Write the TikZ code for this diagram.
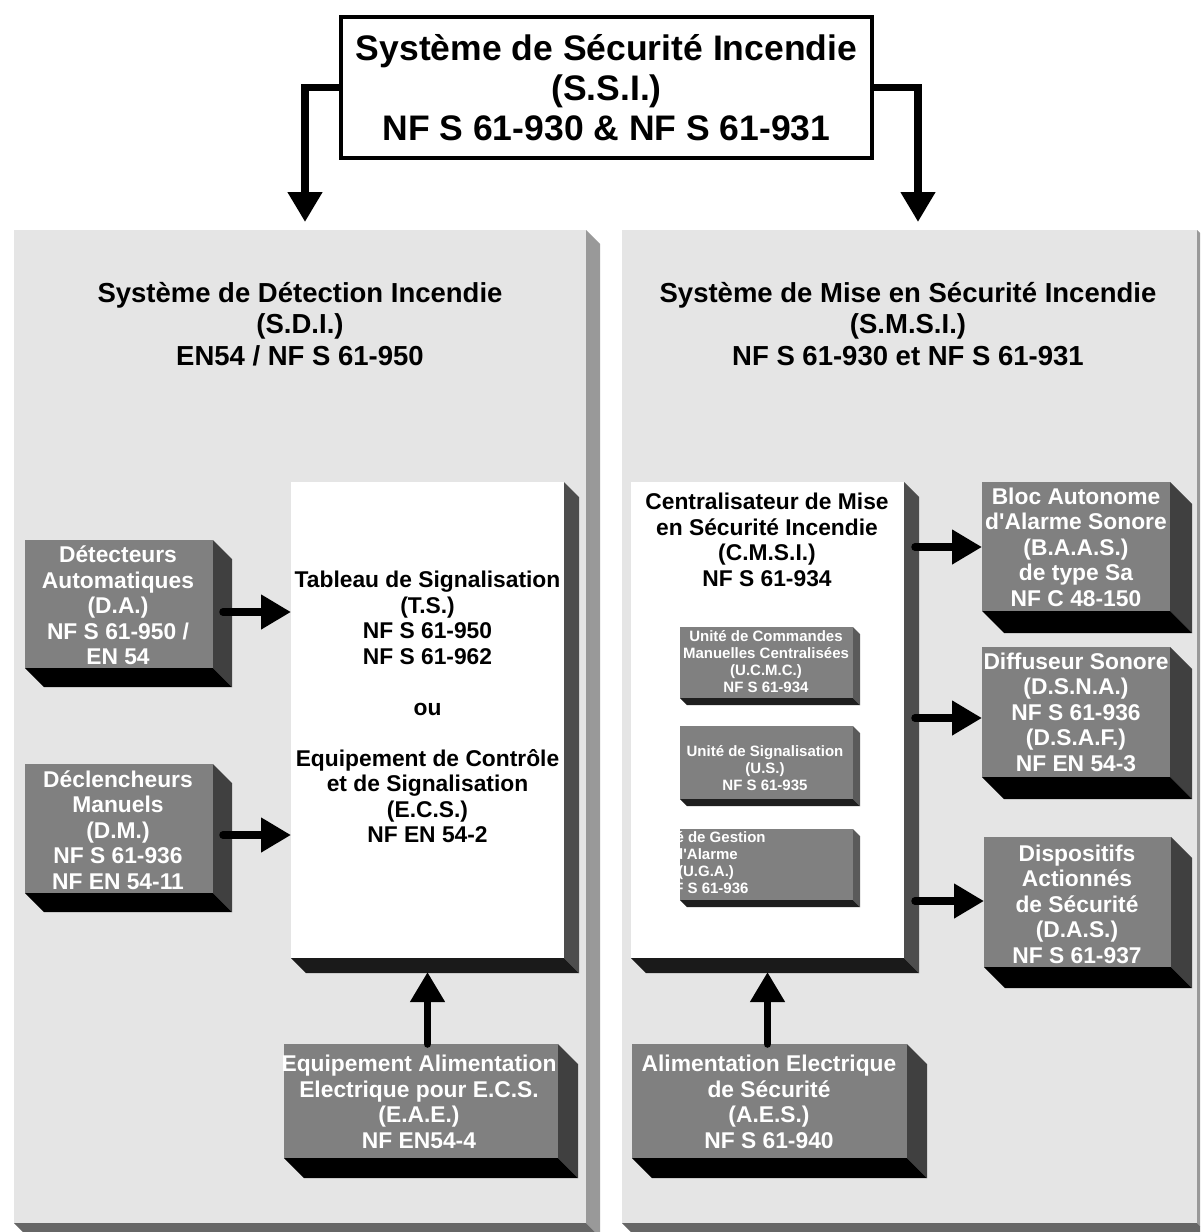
\documentclass[tikz,border=0pt]{standalone}
\usepackage{fontspec}
\setmainfont{Liberation Sans}[Ligatures=TeXOff]
\usetikzlibrary{calc,arrows.meta}

\definecolor{panel}{HTML}{E5E5E5}
\definecolor{pside}{HTML}{999999}
\definecolor{pbot}{HTML}{666666}
\definecolor{dfront}{HTML}{808080}
\definecolor{dside}{HTML}{404040}
\definecolor{dbot}{HTML}{000000}
\definecolor{wside}{HTML}{4D4D4D}
\definecolor{wbot}{HTML}{1A1A1A}
\definecolor{sside}{HTML}{5A5A5A}
\definecolor{sbot}{HTML}{1F1F1F}

% box front as a named node, from corner (x1,y1) to (x2,y2)
\newcommand\mkbox[6]{\node[face=#6, minimum width={(#4-#2)*1pt}, minimum height={(#5-#3)*1pt}] (#1) at ({(#2+#4)/2},{(#3+#5)/2}) {};}
% extrusion: node, offset, side colour, bottom colour
\newcommand\extr[4]{%
  \fill[#3] (#1.north east) -- ++(#2,#2) -- ($(#1.south east)+(#2,#2)$) -- (#1.south east) -- cycle;
  \fill[#4] (#1.south west) -- (#1.south east) -- ($(#1.south east)+(#2,#2)$) -- ($(#1.south west)+(#2,#2)$) -- cycle;
}

\begin{document}
\begin{tikzpicture}[x=1pt,y=-1pt,
  face/.style={fill=#1, draw=none, inner sep=0pt, outer sep=0pt},
  bigtxt/.style={font=\bfseries\fontsize{35.5}{40}\selectfont, align=center, inner sep=0pt},
  ttl/.style={font=\bfseries\fontsize{27.5}{31.5}\selectfont, align=center, inner sep=0pt},
  btxt/.style={font=\bfseries\fontsize{22.8}{25.5}\selectfont, align=center, inner sep=0pt, text=white},
  wtxt/.style={btxt, text=black},
  stxt/.style={font=\bfseries\fontsize{15}{17}\selectfont, align=center, inner sep=0pt, text=white},
  arr/.style={line width=7.5pt, line cap=round, -{Triangle[length=30pt,width=33pt]}},
]
\useasboundingbox (0,0) rectangle (1200,1232);
\clip (0,0) rectangle (1200,1232);
\fill[white] (0,0) rectangle (1200,1232);

% panels
\mkbox{sdi}{14}{230}{586}{1223}{panel} \extr{sdi}{14}{pside}{pbot}
\mkbox{smsi}{622}{230}{1197}{1223}{panel} \extr{smsi}{14}{pside}{pbot}

% top box
\node[draw, line width=4pt, fill=white, minimum width=531pt, minimum height=141pt, bigtxt] (ssi) at (606.5,87.5)
  {Système de Sécurité Incendie\\(S.S.I.)\\NF S 61-930 \& NF S 61-931};

% panel titles
\node[ttl] (sdi-t) at (300,324) {Système de Détection Incendie\\(S.D.I.)\\EN54 / NF S 61-950};
\node[ttl] (smsi-t) at (908,324) {Système de Mise en Sécurité Incendie\\(S.M.S.I.)\\NF S 61-930 et NF S 61-931};

% left panel boxes
\mkbox{ts}{291}{482}{564}{958}{white} \extr{ts}{15}{wside}{wbot}
\mkbox{da}{25}{540}{213}{668}{dfront} \extr{da}{19}{dside}{dbot}
\mkbox{dm}{25}{764}{213}{893}{dfront} \extr{dm}{19}{dside}{dbot}
\mkbox{eae}{284}{1044}{558}{1158}{dfront} \extr{eae}{20}{dside}{dbot}

% right panel boxes
\mkbox{cmsi}{631}{482}{904}{958}{white} \extr{cmsi}{15}{wside}{wbot}
\mkbox{ucmc}{680}{627}{853}{698}{dfront} \extr{ucmc}{7}{sside}{sbot}
\mkbox{us}{680}{726}{853}{799}{dfront} \extr{us}{7}{sside}{sbot}
\mkbox{uga}{680}{829}{853}{900}{dfront} \extr{uga}{7}{sside}{sbot}
\mkbox{baas}{982}{482}{1170}{611}{dfront} \extr{baas}{22}{dside}{dbot}
\mkbox{dsna}{982}{647}{1170}{777}{dfront} \extr{dsna}{22}{dside}{dbot}
\mkbox{das}{984}{837}{1171}{967}{dfront} \extr{das}{21}{dside}{dbot}
\mkbox{aes}{632}{1044}{907}{1158}{dfront} \extr{aes}{20}{dside}{dbot}

% connectors
\draw[arr, line cap=butt] (ssi.west) -| ($(sdi.north)+(5,-8)$);
\draw[arr, line cap=butt] (ssi.east) -| ($(smsi.north)+(8.5,-8)$);

\coordinate (dao) at ($(da.east)+(10,8)$);
\draw[arr] (dao) -- (dao -| ts.west);
\coordinate (dmo) at ($(dm.east)+(10,6.5)$);
\draw[arr] (dmo) -- (dmo -| ts.west);
\coordinate (eaeo) at (eae.north -| ts.south);
\draw[arr] (eaeo) -- ($(ts.south)+(0,14)$);

\coordinate (c1) at ($(cmsi.east |- baas.west)+(11,0.5)$);
\draw[arr] (c1) -- (c1 -| baas.west);
\coordinate (c2) at ($(cmsi.east |- dsna.west)+(11,6)$);
\draw[arr] (c2) -- (c2 -| dsna.west);
\coordinate (c3) at ($(cmsi.east |- das.west)+(11,-1)$);
\draw[arr] (c3) -- (c3 -| das.west);
\coordinate (aeso) at (aes.north -| cmsi.south);
\draw[arr] (aeso) -- ($(cmsi.south)+(0,14)$);

% texts
\node[wtxt] (ts-t) at (427.5,707) {Tableau de Signalisation\\(T.S.)\\NF S 61-950\\NF S 61-962\\[25.5pt]ou\\[25.5pt]Equipement de Contrôle\\et de Signalisation\\(E.C.S.)\\NF EN 54-2};
\node[btxt] (da-t) at (118,605.5) {Détecteurs\\Automatiques\\(D.A.)\\NF S 61-950 /\\EN 54};
\node[btxt] (dm-t) at (118,830) {Déclencheurs\\Manuels\\(D.M.)\\NF S 61-936\\NF EN 54-11};
\node[btxt] (eae-t) at (419,1102) {Equipement Alimentation\\Electrique pour E.C.S.\\(E.A.E.)\\NF EN54-4};

\node[wtxt] (cmsi-t) at (767,540) {Centralisateur de Mise\\en Sécurité Incendie\\(C.M.S.I.)\\NF S 61-934};
\node[stxt] (ucmc-t) at (766,662) {Unité de Commandes\\Manuelles Centralisées\\(U.C.M.C.)\\NF S 61-934};
\node[stxt] (us-t) at (765,768) {Unité de Signalisation\\(U.S.)\\NF S 61-935};
\begin{scope}
  \clip (uga.north west) rectangle ($(uga.south east)+(20,0)$);
  \node[stxt] (uga-t) at (706,863) {Unité de Gestion\\d'Alarme\\(U.G.A.)\\NF S 61-936};
\end{scope}
\node[btxt] (baas-t) at (1076,547) {Bloc Autonome\\d'Alarme Sonore\\(B.A.A.S.)\\de type Sa\\NF C 48-150};
\node[btxt] (dsna-t) at (1076,712) {Diffuseur Sonore\\(D.S.N.A.)\\NF S 61-936\\(D.S.A.F.)\\NF EN 54-3};
\node[btxt] (das-t) at (1077,904) {Dispositifs\\Actionnés\\de Sécurité\\(D.A.S.)\\NF S 61-937};
\node[btxt] (aes-t) at (769,1102) {Alimentation Electrique\\de Sécurité\\(A.E.S.)\\NF S 61-940};
\end{tikzpicture}
\end{document}
